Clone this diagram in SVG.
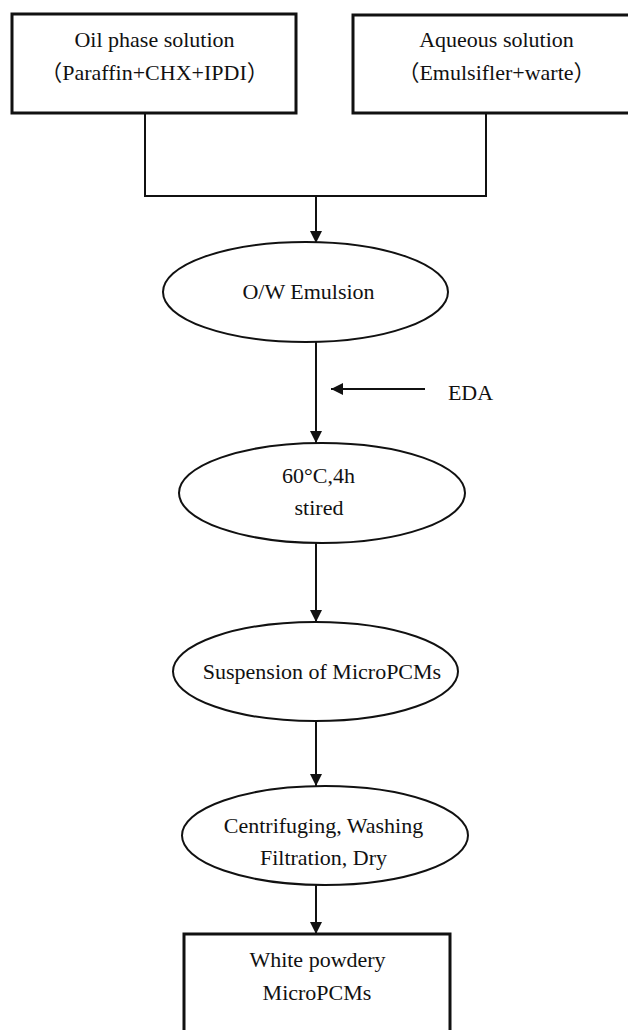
<svg xmlns="http://www.w3.org/2000/svg" width="628" height="1030" viewBox="0 0 628 1030">
<style>
text{font-family:"Liberation Serif","Times New Roman","Noto Sans CJK SC",serif;font-size:22px;fill:#111;text-anchor:middle}
.box{fill:#fff;stroke:#111;stroke-width:3}
.ell{fill:#fff;stroke:#111;stroke-width:2}
.conn{fill:none;stroke:#111;stroke-width:2}
</style>
<defs>
<marker id="ah" markerUnits="userSpaceOnUse" markerWidth="12" markerHeight="12" viewBox="0 0 12 12" refX="12" refY="6" orient="auto">
<path d="M0,0 L12,6 L0,12 z" fill="#111"/>
</marker>
</defs>
<rect width="628" height="1030" fill="#fff"/>
<g id="connectors">
<polyline class="conn" points="145,113 145,196 486,196 486,113"/>
<line class="conn" x1="316" y1="196" x2="316" y2="243" marker-end="url(#ah)"/>
<line class="conn" x1="316" y1="342" x2="316" y2="443" marker-end="url(#ah)"/>
<line class="conn" x1="425" y1="389" x2="331" y2="389" marker-end="url(#ah)"/>
<line class="conn" x1="316" y1="543" x2="316" y2="622" marker-end="url(#ah)"/>
<line class="conn" x1="316" y1="721" x2="316" y2="786" marker-end="url(#ah)"/>
<line class="conn" x1="316" y1="885" x2="316" y2="934" marker-end="url(#ah)"/>
</g>
<g id="oil">
<rect class="box" x="12" y="14" width="284" height="99"/>
<text x="154.5" y="47">Oil phase solution</text>
<text x="154.5" y="80">（Paraffin+CHX+IPDI）</text>
</g>
<g id="aqueous">
<rect class="box" x="353" y="15" width="290" height="98"/>
<text x="496.5" y="47">Aqueous solution</text>
<text x="496.5" y="80">（Emulsifler+warte）</text>
</g>
<g id="emulsion">
<ellipse class="ell" cx="305.5" cy="292" rx="142.5" ry="50"/>
<text x="308.5" y="299">O/W Emulsion</text>
</g>
<g id="eda">
<text x="470.5" y="400">EDA</text>
</g>
<g id="stired">
<ellipse class="ell" cx="322" cy="493" rx="143" ry="50"/>
<text x="318.5" y="483">60°C,4h</text>
<text x="319" y="515">stired</text>
</g>
<g id="suspension">
<ellipse class="ell" cx="315.5" cy="671.5" rx="142.5" ry="49.5"/>
<text x="322" y="679">Suspension of MicroPCMs</text>
</g>
<g id="centrifuging">
<ellipse class="ell" cx="325" cy="835.5" rx="143" ry="49.5"/>
<text x="323.5" y="833">Centrifuging, Washing</text>
<text x="323.5" y="865">Filtration, Dry</text>
</g>
<g id="powder">
<rect class="box" x="184" y="934" width="266" height="110"/>
<text x="317.5" y="967">White powdery</text>
<text x="317" y="1000">MicroPCMs</text>
</g>
</svg>
